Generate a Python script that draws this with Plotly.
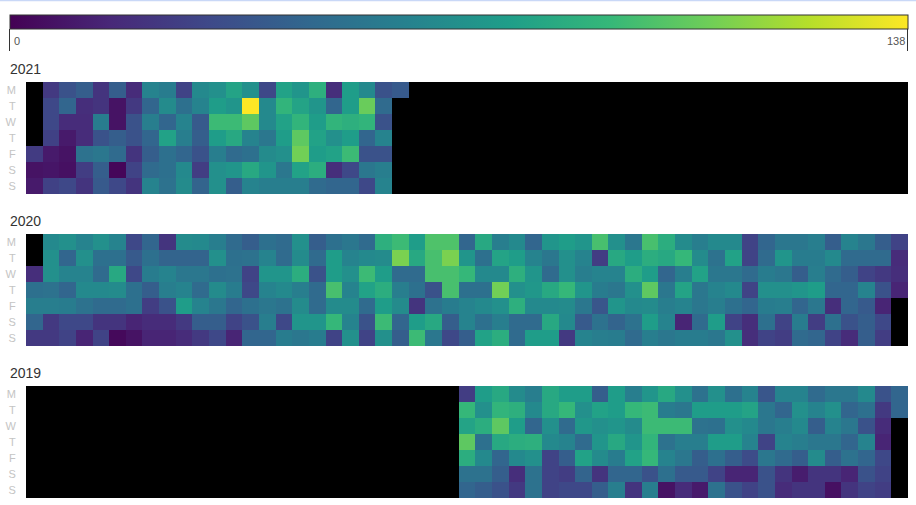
import plotly.graph_objects as go
from plotly.subplots import make_subplots

years = [2021, 2020, 2019]
weekday_labels = ["M", "T", "W", "T", "F", "S", "S"]
n_weeks = 53
zmin, zmax = 0, 138
N = None

# daily counts per weekday row (Mon..Sun), one entry per week column; None = no data
counts_2021 = [
    [N, 23, 35, 41, 21, 41, 17, 62, 58, 28, 65, 69, 80, 69, 30, 79, 72, 87, 18, 76, 65, 35, 39],
    [N, 30, 45, 18, 21, 7, 23, 45, 66, 51, 62, 76, 72, 138, 65, 90, 80, 72, 45, 76, 106, 48],
    [N, 30, 17, 17, 58, 7, 35, 59, 45, 62, 39, 94, 94, 103, 65, 79, 90, 76, 90, 87, 90, 35],
    [N, 27, 10, 17, 35, 41, 35, 45, 79, 59, 41, 76, 83, 62, 55, 76, 103, 79, 69, 76, 45, 62],
    [24, 10, 7, 52, 55, 48, 21, 41, 51, 45, 35, 59, 48, 51, 66, 69, 108, 76, 79, 94, 35, 35],
    [7, 8, 6, 25, 41, 2, 28, 48, 51, 65, 25, 69, 72, 83, 72, 55, 79, 86, 18, 30, 55, 59],
    [10, 27, 30, 21, 39, 30, 21, 62, 52, 66, 44, 69, 41, 62, 59, 59, 59, 48, 45, 45, 30, 62],
]

counts_2020 = [
    [N, 65, 69, 62, 69, 62, 30, 45, 21, 66, 65, 59, 48, 41, 51, 48, 69, 41, 51, 55, 48, 87, 94, 76, 99, 99,
     45, 83, 59, 65, 45, 72, 76, 72, 97, 69, 55, 97, 86, 66, 59, 65, 65, 28, 45, 55, 55, 59, 41, 62, 55, 41, 28],
    [N, 69, 45, 69, 51, 51, 39, 51, 44, 44, 44, 69, 51, 52, 62, 48, 66, 48, 76, 62, 65, 66, 110, 83, 97, 110,
     72, 51, 80, 76, 62, 55, 69, 62, 25, 83, 76, 86, 83, 92, 66, 52, 79, 28, 48, 72, 58, 58, 65, 48, 48, 48, 17],
    [18, 69, 62, 62, 48, 83, 30, 58, 62, 55, 55, 51, 52, 28, 72, 72, 86, 35, 76, 69, 94, 76, 48, 48, 97, 97,
     92, 65, 65, 87, 72, 48, 69, 59, 62, 62, 86, 76, 45, 59, 79, 55, 55, 48, 58, 55, 41, 59, 48, 41, 28, 23, 18],
    [51, 52, 45, 65, 65, 66, 51, 41, 59, 62, 48, 66, 58, 30, 62, 65, 59, 48, 97, 62, 79, 86, 59, 51, 35, 97,
     51, 51, 108, 69, 73, 83, 92, 72, 58, 55, 69, 103, 55, 80, 55, 62, 65, 28, 69, 69, 72, 76, 45, 45, 62, 35, 14],
    [59, 59, 58, 52, 48, 48, 51, 25, 35, 76, 62, 55, 45, 51, 55, 52, 66, 48, 66, 66, 48, 76, 66, 21, 52, 58,
     62, 65, 69, 87, 65, 65, 66, 55, 37, 72, 65, 66, 59, 62, 55, 59, 51, 45, 58, 59, 45, 55, 18, 45, 39, 14, N],
    [45, 23, 30, 30, 21, 21, 14, 17, 17, 23, 41, 41, 28, 35, 59, 30, 72, 72, 92, 62, 35, 94, 45, 76, 83, 41,
     62, 51, 59, 48, 48, 83, 65, 39, 52, 44, 52, 76, 62, 14, 48, 76, 28, 18, 51, 28, 58, 25, 51, 35, 41, 30, N],
    [23, 23, 28, 14, 28, 3, 7, 14, 14, 17, 23, 30, 14, 45, 45, 58, 55, 58, 28, 69, 28, 69, 41, 94, 55, 30,
     41, 79, 86, 48, 76, 76, 23, 62, 59, 58, 48, 59, 55, 58, 58, 55, 69, 18, 28, 25, 48, 45, 28, 17, 41, 25, N],
]

lead_2019 = [N] * 26
counts_2019 = [
    lead_2019 + [25, 76, 83, 66, 59, 83, 76, 76, 41, 76, 59, 72, 83, 69, 52, 69, 51, 62, 37, 62, 62, 48, 55, 55, 65, 35, 45],
    lead_2019 + [92, 69, 90, 87, 65, 83, 92, 69, 79, 76, 92, 94, 58, 55, 76, 76, 76, 80, 55, 45, 69, 62, 69, 45, 51, 23, 45],
    lead_2019 + [80, 86, 103, 76, 45, 69, 48, 73, 69, 72, 66, 94, 94, 94, 52, 51, 69, 65, 55, 59, 65, 41, 62, 55, 35, 17, N],
    lead_2019 + [103, 51, 83, 86, 87, 65, 62, 48, 72, 83, 72, 90, 52, 59, 59, 76, 76, 62, 28, 62, 59, 55, 55, 45, 62, 14, N],
    lead_2019 + [86, 65, 45, 65, 69, 28, 41, 79, 66, 58, 79, 92, 62, 55, 41, 51, 41, 32, 55, 48, 41, 66, 41, 52, 45, 30, N],
    lead_2019 + [52, 52, 41, 18, 52, 28, 25, 44, 21, 45, 45, 35, 51, 39, 39, 28, 14, 14, 35, 21, 11, 21, 21, 14, 35, 28, N],
    lead_2019 + [45, 41, 35, 23, 52, 28, 30, 30, 41, 59, 21, 59, 7, 17, 10, 52, 35, 28, 35, 17, 21, 21, 6, 21, 28, 25, N],
]

data_by_year = {2021: counts_2021, 2020: counts_2020, 2019: counts_2019}


def pad(row):
    return row + [None] * (n_weeks - len(row))


W, H = 916, 505
ML, MR, MT, MB = 26, 8, 82, 7
plot_w = W - ML - MR
plot_h = H - MT - MB
gap = 40

fig = make_subplots(rows=3, cols=1, vertical_spacing=gap / plot_h)

for i, yr in enumerate(years):
    z = [pad(r) for r in data_by_year[yr]]
    fig.add_trace(
        go.Heatmap(
            z=z,
            x=list(range(n_weeks)),
            y=list(range(7)),
            coloraxis="coloraxis",
            hoverongaps=False,
            xgap=0,
            ygap=0,
        ),
        row=i + 1,
        col=1,
    )
    fig.update_xaxes(range=[-0.5, n_weeks - 0.5], showgrid=False, zeroline=False,
                     showticklabels=False, ticks="", row=i + 1, col=1)
    fig.update_yaxes(range=[6.5, -0.5], tickvals=list(range(7)), ticktext=weekday_labels,
                     showgrid=False, zeroline=False, ticks="outside", ticklen=7,
                     tickcolor="rgba(0,0,0,0)",
                     tickfont=dict(size=11, color="#c4c4c4"), row=i + 1, col=1)
    yref = "y domain" if i == 0 else f"y{i + 1} domain"
    fig.add_annotation(text=str(yr), xref="paper", yref=yref,
                       x=(8 - ML) / plot_w, y=1 + 13 / 112, xanchor="left", yanchor="middle",
                       showarrow=False, font=dict(size=14, color="#333333"))

# colorbar end labels
fig.add_annotation(text=str(zmin), xref="paper", yref="paper",
                   x=(12 - ML) / plot_w, y=1 + (MT - 41) / plot_h, xanchor="left", yanchor="middle",
                   showarrow=False, font=dict(size=11, color="#555555"))
fig.add_annotation(text=str(zmax), xref="paper", yref="paper",
                   x=(907 - ML) / plot_w, y=1 + (MT - 41) / plot_h, xanchor="right", yanchor="middle",
                   showarrow=False, font=dict(size=11, color="#555555"))

# thin top line
fig.add_shape(type="line", xref="paper", yref="paper",
              x0=-ML / plot_w, x1=1 + MR / plot_w,
              y0=1 + (MT - 0.5) / plot_h, y1=1 + (MT - 0.5) / plot_h,
              line=dict(color="#c9d8f7", width=1.5))

fig.update_layout(
    width=W,
    height=H,
    margin=dict(l=ML, r=MR, t=MT, b=MB, pad=0, autoexpand=False),
    paper_bgcolor="white",
    plot_bgcolor="black",
    font=dict(family="Liberation Sans, Arial, sans-serif"),
    coloraxis=dict(
        colorscale="Viridis",
        cmin=zmin,
        cmax=zmax,
        colorbar=dict(
            orientation="h",
            xref="container",
            yref="container",
            x=10 / W,
            xanchor="left",
            y=1 - 14.5 / H,
            yanchor="top",
            len=898 / plot_w,
            lenmode="fraction",
            thickness=14,
            thicknessmode="pixels",
            xpad=0,
            ypad=0,
            outlinewidth=1,
            outlinecolor="#333333",
            tickvals=[zmin, zmax],
            ticks="outside",
            ticklen=22,
            tickwidth=1,
            tickcolor="#333333",
            showticklabels=False,
        ),
    ),
    showlegend=False,
)

fig.write_html("out.html", config={"displayModeBar": False},
               post_script="document.body.style.margin='0';document.body.style.overflow='hidden';")
